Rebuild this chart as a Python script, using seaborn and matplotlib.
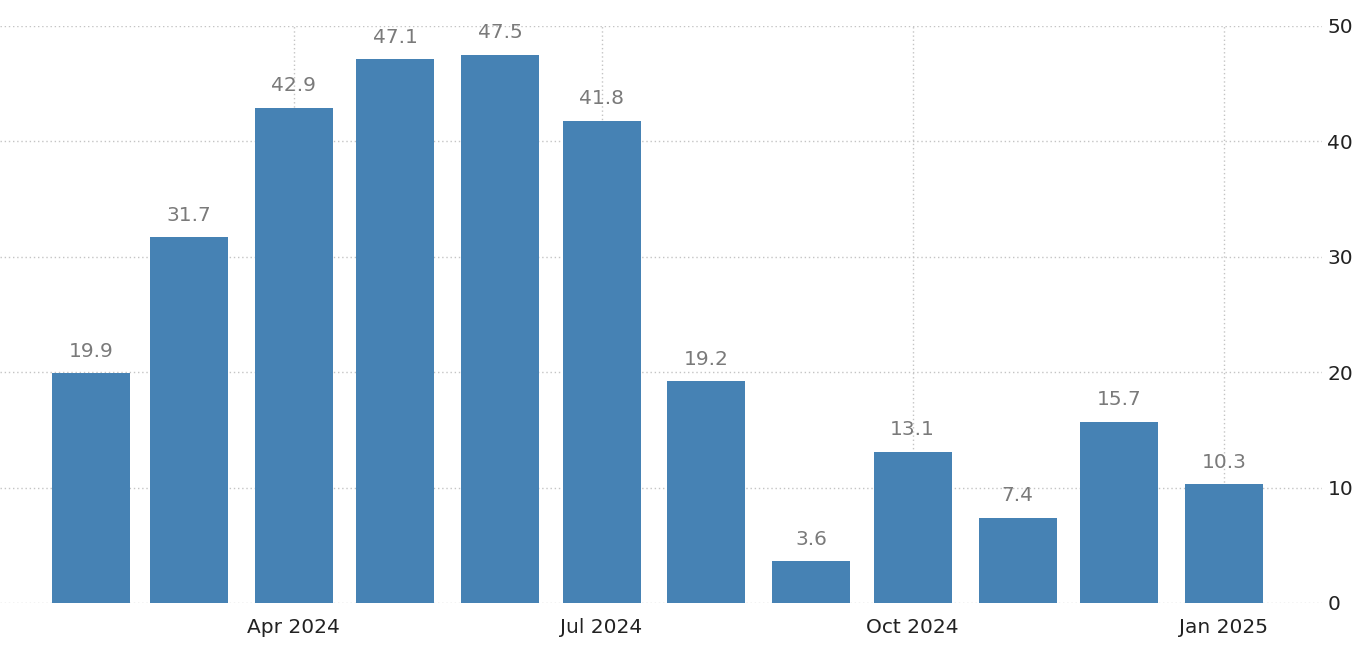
"""
Monthly bar chart, Feb 2024 - Jan 2025
"""
import pandas as pd
import matplotlib
matplotlib.use('Agg')
import matplotlib.pyplot as plt
import matplotlib.dates as mdates
import seaborn as sns

## Data
months = ['2024-02-01', '2024-03-01', '2024-04-01', '2024-05-01',
          '2024-06-01', '2024-07-01', '2024-08-01', '2024-09-01',
          '2024-10-01', '2024-11-01', '2024-12-01', '2025-01-01']
values = [19.9, 31.7, 42.9, 47.1, 47.5, 41.8, 19.2, 3.6, 13.1, 7.4, 15.7, 10.3]
tick_dates = ['2024-04-01', '2024-07-01', '2024-10-01', '2025-01-01']
y_ticks = [0, 10, 20, 30, 40, 50]

bar_color = '#4682b4'
grid_color = '#c4c4c4'

sns.set_style('white')
plt.rcParams['font.family'] = ['DejaVu Sans']

df = pd.DataFrame({
    'date': mdates.date2num(pd.to_datetime(months)),
    'value': values,
})

fig = plt.figure(figsize=(13.61, 6.46), dpi=100)
ax = fig.add_axes([0.0, 0.0666, 0.9713, 0.8932])

sns.barplot(data=df, x='date', y='value', native_scale=True, width=0.795,
            color=bar_color, saturation=1, linewidth=0, ax=ax, zorder=3)

# value labels above bars
ax.bar_label(ax.containers[0], fmt='%.1f', padding=9, fontsize=14.5,
             color='#7a7a7a', clip_on=False)

# axes ranges
first = mdates.date2num(pd.Timestamp(months[0]))
last = mdates.date2num(pd.Timestamp(months[-1]))
ax.set_xlim(first - 26.9, last + 29)
ax.set_ylim(0, 50)

# ticks
ax.set_xticks(mdates.date2num(pd.to_datetime(tick_dates)))
ax.xaxis.set_major_formatter(mdates.DateFormatter('%b %Y'))
ax.set_yticks(y_ticks)
ax.yaxis.tick_right()
ax.tick_params(axis='y', length=0, pad=4, labelsize=14.5, labelcolor='#222222')
ax.tick_params(axis='x', length=8, width=1, color=grid_color, pad=3,
               labelsize=14.5, labelcolor='#222222')

# dotted grid
ax.grid(True, which='major', axis='both', linestyle=(0, (1, 2)),
        color=grid_color, linewidth=1, zorder=0)
ax.set_axisbelow(True)
for s in ax.spines.values():
    s.set_visible(False)

ax.set_xlabel('')
ax.set_ylabel('')

plt.savefig('out.png', dpi=100)
